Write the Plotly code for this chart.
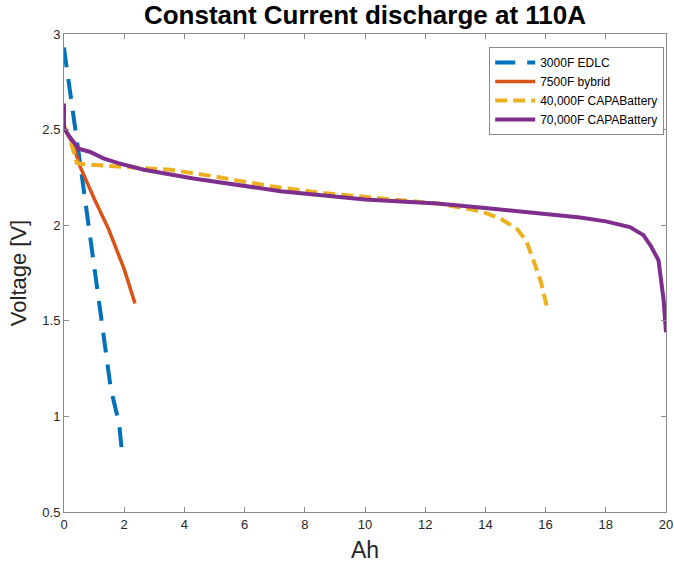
import plotly.graph_objects as go

# Discharge curves at 110 A constant current: capacity drawn (Ah) vs cell voltage (V)
edlc_ah = [0.0, 0.04, 0.6, 0.82, 1.2, 1.56, 1.83, 1.94]
edlc_v = [2.93, 2.88, 2.25, 2.0, 1.56, 1.14, 0.965, 0.79]

hybrid_ah = [0.0, 0.1, 0.27, 0.54, 1.0, 1.48, 2.0, 2.36]
hybrid_v = [2.52, 2.48, 2.435, 2.305, 2.14, 1.98, 1.77, 1.59]

capa40k_ah = [0.0, 0.2, 0.43, 0.6, 1.5, 2.5, 3.53, 5.0, 6.87, 8.5, 10.5, 12.4, 13.83,
              14.5, 15.05, 15.35, 15.59, 15.85, 16.04]
capa40k_v = [2.52, 2.45, 2.325, 2.32, 2.31, 2.30, 2.29, 2.255, 2.204, 2.17, 2.14, 2.113, 2.074,
             2.035, 1.98, 1.92, 1.82, 1.70, 1.576]

capa70k_ah = [0.0, 0.0, 0.15, 0.49, 0.87, 1.31, 1.8, 2.65, 4.3, 7.19, 10.0, 12.4, 14.17,
              16.0, 17.15, 18.0, 18.8, 19.25, 19.5, 19.75, 19.92, 20.0]
capa70k_v = [2.636, 2.51, 2.47, 2.40, 2.383, 2.35, 2.325, 2.29, 2.244, 2.178, 2.135, 2.113, 2.087,
             2.06, 2.04, 2.02, 1.99, 1.948, 1.89, 1.817, 1.61, 1.44]

series_names = ["3000F EDLC", "7500F bybrid", "40,000F CAPABattery", "70,000F CAPABattery"]
series_colors = ["#0072BD", "#D95319", "#EDB120", "#7E2F8E"]

x_ticks = list(range(0, 21, 2))
y_ticks = [0.5, 1, 1.5, 2, 2.5, 3]
y_tick_text = ["0.5", "1", "1.5", "2", "2.5", "3"]

fig = go.Figure()
fig.add_trace(go.Scatter(x=edlc_ah, y=edlc_v, mode="lines", name=series_names[0],
                         line=dict(color=series_colors[0], width=4, dash="20px,12px")))
fig.add_trace(go.Scatter(x=hybrid_ah, y=hybrid_v, mode="lines", name=series_names[1],
                         line=dict(color=series_colors[1], width=3.5)))
fig.add_trace(go.Scatter(x=capa40k_ah, y=capa40k_v, mode="lines", name=series_names[2],
                         line=dict(color=series_colors[2], width=4, dash="12px,6px")))
fig.add_trace(go.Scatter(x=capa70k_ah, y=capa70k_v, mode="lines", name=series_names[3],
                         line=dict(color=series_colors[3], width=4)))

axis_common = dict(
    showline=True, linecolor="#8a8a8a", linewidth=1, mirror="ticks",
    ticks="inside", ticklen=5, tickcolor="#8a8a8a", tickwidth=1,
    showgrid=False, zeroline=False, automargin=False,
    tickfont=dict(family="Liberation Sans, Arial, sans-serif", size=13, color="#262626"),
)

fig.update_layout(
    width=674, height=564,
    margin=dict(l=64, r=8, t=34, b=52),
    paper_bgcolor="white", plot_bgcolor="white",
    font=dict(family="Liberation Sans, Arial, sans-serif", color="#262626"),
    title=dict(text="<b>Constant Current discharge at 110A</b>",
               font=dict(size=26, color="black"),
               x=0.5, xanchor="center", xref="paper",
               y=1 - 15 / 564, yanchor="middle", yref="container"),
    xaxis=dict(range=[0, 20], tickvals=x_ticks,
               title=dict(text="Ah", font=dict(size=23, color="#262626"), standoff=11),
               **axis_common),
    yaxis=dict(range=[0.5, 3], tickvals=y_ticks, ticktext=y_tick_text,
               title=dict(text="Voltage [V]", font=dict(size=22, color="#262626"), standoff=9),
               **axis_common),
    legend=dict(x=0.997, y=0.973, xanchor="right", yanchor="top",
                bgcolor="white", bordercolor="#8a8a8a", borderwidth=1,
                font=dict(size=12, color="black"), itemwidth=40,
                tracegroupgap=0),
    showlegend=True,
)

fig.write_html("out.html")
